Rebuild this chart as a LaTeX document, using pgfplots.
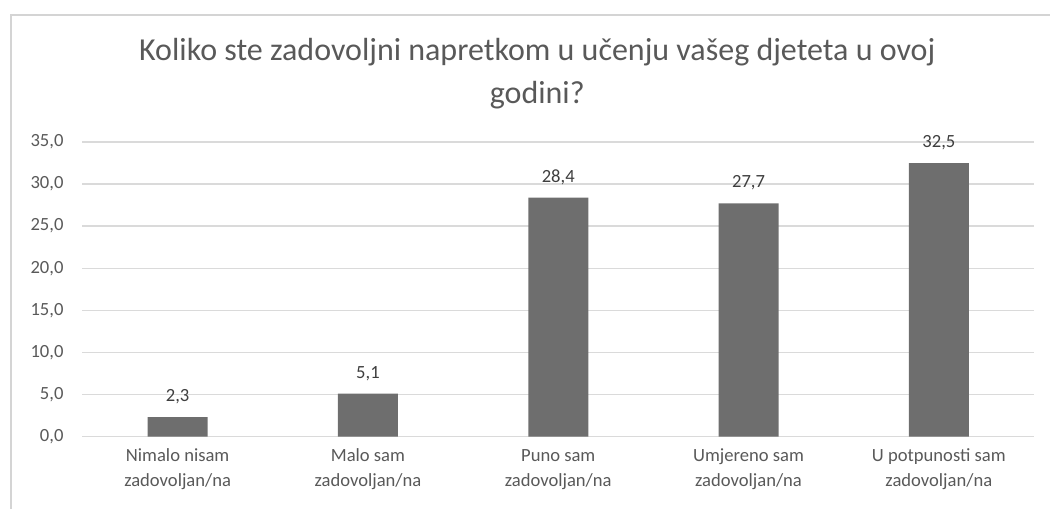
\documentclass[border=0pt]{standalone}
\usepackage{pgfplots}
\pgfplotsset{compat=1.18}
\usepackage{fontspec}
\setmainfont{Carlito}
\definecolor{barcol}{HTML}{6E6E6E}
\definecolor{gridcol}{HTML}{DADADA}
\definecolor{txtcol}{HTML}{595959}
\definecolor{framecol}{HTML}{D4D4D4}
\begin{document}
\begin{tikzpicture}
\begin{axis}[
    name=ax,
    scale only axis,
    width=475.75pt, height=147.25pt,
    ybar, bar width=30pt,
    xmin=-0.5, xmax=4.5,
    ymin=0, ymax=35,
    ytick={0,5,...,35},
    xtick=data,
    xticklabels={{\strut Nimalo nisam\\zadovoljan/na},{\strut Malo sam\\zadovoljan/na},{\strut Puno sam\\zadovoljan/na},{\strut Umjereno sam\\zadovoljan/na},{\strut U potpunosti sam\\zadovoljan/na}},
    x tick label style={align=center, font=\fontsize{9.3}{12.5}\selectfont, text=txtcol, yshift=0pt},
    y tick label style={font=\fontsize{9.3}{11}\selectfont, text=txtcol, xshift=-6pt},
    yticklabel style={/pgf/number format/.cd, fixed, fixed zerofill, precision=1, use comma},
    /pgf/number format/assume math mode=true,
    ymajorgrids, grid style={gridcol, line width=0.7pt},
    axis line style={draw=none},
    major tick length=0pt,
    nodes near coords,
    nodes near coords style={font=\fontsize{9.3}{11}\selectfont, text=txtcol!70!black, yshift=3pt, /pgf/number format/.cd, fixed, fixed zerofill, precision=1, use comma, assume math mode=true},
    enlarge x limits=false,
]
\addplot[fill=barcol, draw=none] coordinates {(0,2.3) (1,5.1) (2,28.4) (3,27.7) (4,32.5)};
\end{axis}
\path[use as bounding box] ([xshift=-41.25pt, yshift=-36pt]ax.south west) rectangle ([xshift=8pt, yshift=71pt]ax.north east);
\draw[framecol, line width=0.8pt] ([xshift=-35.75pt, yshift=-50pt]ax.south west) -- ([xshift=-35.75pt, yshift=63.5pt]ax.north west) -- ([xshift=30pt, yshift=63.5pt]ax.north east);
\node[align=center, font=\fontsize{16}{21.5}\selectfont, text=txtcol, anchor=base, inner sep=0pt] at ([xshift=-10.5pt, yshift=19.5pt]ax.north) {Koliko ste zadovoljni napretkom u učenju vašeg djeteta u ovoj\\godini?};
\end{tikzpicture}
\end{document}
